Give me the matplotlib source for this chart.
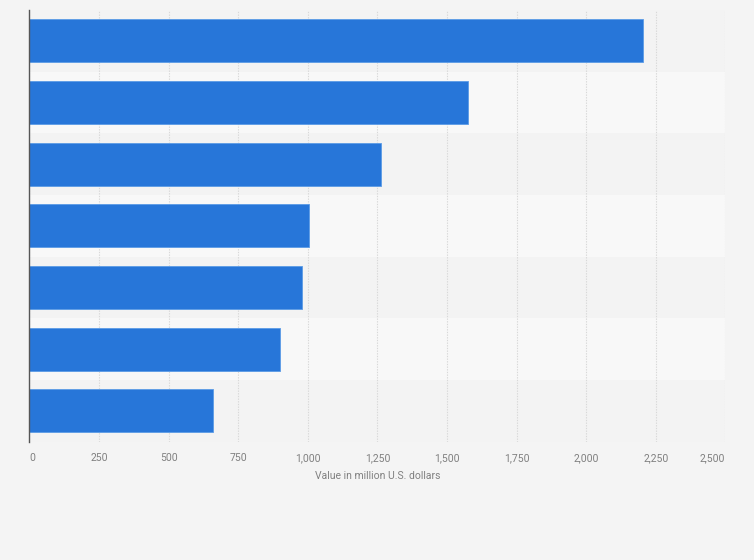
import matplotlib
matplotlib.use("Agg")
import matplotlib.pyplot as plt
import numpy as np

plt.rcParams['font.family'] = ['Roboto', 'DejaVu Sans']

# bar values, top to bottom (million U.S. dollars)
values = [2204, 1577, 1262, 1003, 980, 901, 660]
x_ticks = [0, 250, 500, 750, 1000, 1250, 1500, 1750, 2000, 2250, 2500]
x_label = "Value in million U.S. dollars"

bg = "#f4f4f4"
bar_color = "#2776d9"

fig = plt.figure(figsize=(7.54, 5.60), dpi=100, facecolor=bg)
ax = fig.add_axes([0.0391, 0.2113, 0.9229, 0.7708])
ax.set_facecolor(bg)

rows = np.arange(len(values))

# alternating row bands
for i in rows:
    band = "#f3f3f3" if i % 2 == 0 else "#f8f8f8"
    ax.axhspan(i - 0.5, i + 0.5, color=band, zorder=0, lw=0)

ax.barh(rows, values, height=0.7, color=bar_color,
        edgecolor="#5b9be6", linewidth=0.6, zorder=3)

ax.set_xlim(0, 2500)
ax.set_ylim(len(values) - 0.5, -0.5)

ax.set_xticks(x_ticks)
ax.set_xticklabels([f"{t:,}" for t in x_ticks], fontsize=7.5, color="#808080")
ax.set_yticks([])
ax.tick_params(axis="x", length=0, pad=8)

# end labels are pulled inside the plot, like the original
labels = ax.get_xticklabels()
labels[0].set_horizontalalignment("left")
labels[-1].set_horizontalalignment("right")

ax.grid(axis="x", color="#d8d8d8", linestyle=(0, (1.2, 1.2)), linewidth=0.8, zorder=1)

for side in ["top", "right", "bottom"]:
    ax.spines[side].set_visible(False)
ax.spines["left"].set_color("#555555")
ax.spines["left"].set_linewidth(1.0)
ax.spines["left"].set_zorder(4)

ax.set_xlabel(x_label, fontsize=7.5, color="#808080", labelpad=6)

fig.savefig("out.png", dpi=100, facecolor=bg)
